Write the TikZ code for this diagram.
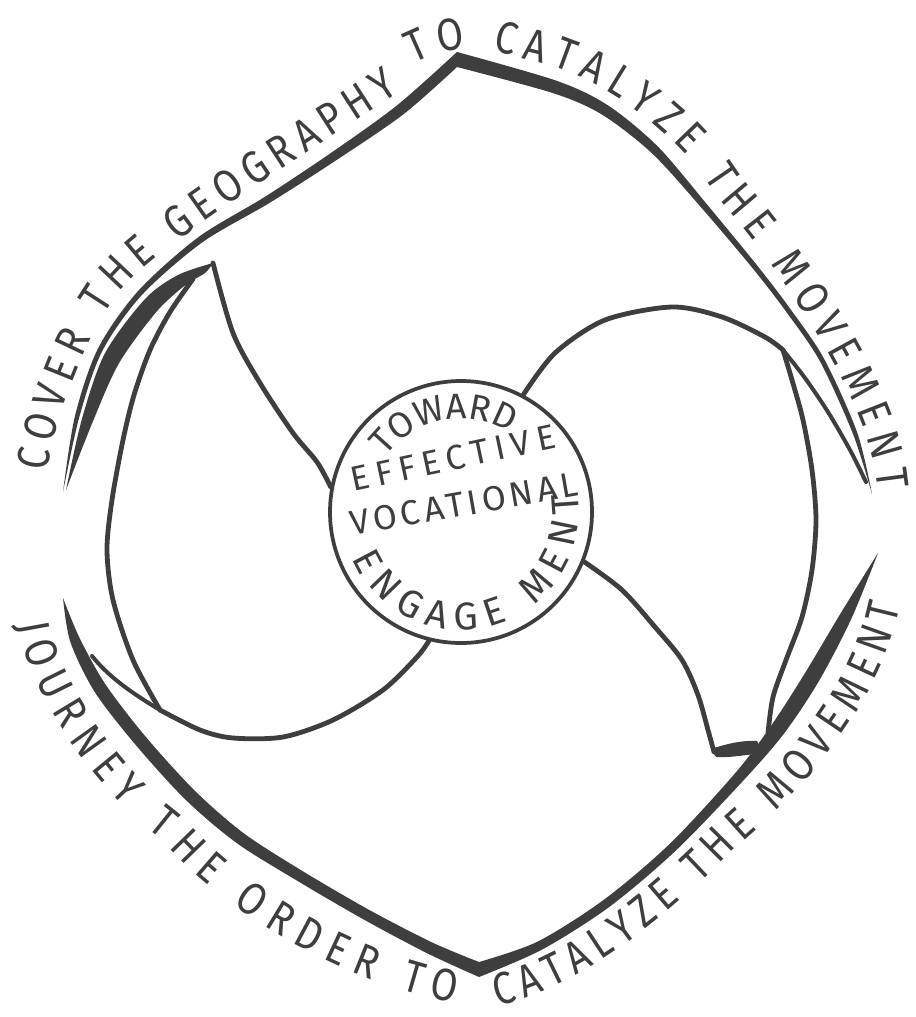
\documentclass[tikz,border=0pt]{standalone}
\usepackage{fontspec}
\setmainfont{Fira Sans}
\newfontfamily\handfont[FakeStretch=0.85]{Fira Sans}
\usetikzlibrary{decorations.text,calc}
\definecolor{inkc}{RGB}{62,62,62}
\newcommand{\outerfont}{\handfont\fontsize{34}{34}\selectfont}
\newcommand{\circfont}{\fontsize{26}{26}\selectfont}
\newcommand{\arcfont}{\fontsize{29}{29}\selectfont}
\newcommand{\topfont}{\fontsize{27}{27}\selectfont}
\begin{document}
\begin{tikzpicture}[x=0.75pt,y=-0.75pt,
  bladeline/.style={draw=inkc,line width=3.6pt,line cap=round,line join=round},
  sliverline/.style={draw=inkc,line width=3pt,line cap=round,line join=round},
  band/.style={fill=inkc},
  circtext/.style={text=inkc,inner sep=0pt}]
\useasboundingbox (0,0) rectangle (915,1017);
\fill[white] (0,0) rectangle (915,1017);

% ---------- top arc band ----------
\fill[band] plot[smooth] coordinates {(63,492) (74.9,416.3) (97.95,348.6) (138.2,290.9) (198.2,237.3) (264.8,196.9) (330.3,153.4) (396.6,105.7) (457,52)}
 -- plot[smooth] coordinates {(457,52) (556.7,80.8) (608,105.4) (657.8,146.5) (707.3,204.8) (757,265.3) (790,308.5) (824.1,358.8) (857.1,432.3) (872,494)}
 -- plot[smooth] coordinates {(872,494) (852.9,433.7) (819.9,361.2) (786,311.5) (753,268.7) (702.7,209.2) (652.2,153.5) (602,114.6) (553.3,93.2) (457,67)}
 -- plot[smooth] coordinates {(457,67) (403.4,114.3) (335.7,160.6) (269.2,203.1) (201.8,242.7) (141.8,295.1) (102.05,351.4) (79.1,417.7) (63,492)}
 -- cycle;

% ---------- bottom arc band ----------
\fill[band] plot[smooth] coordinates {(63,598) (70.35,641.9) (94.5,691.6) (135.1,744.2) (185.5,799.6) (236.5,842.9) (297.1,880.7) (364.3,919.8) (427.5,953.4) (479,977)}
 -- plot[smooth] coordinates {(479,977) (542.2,949.5) (609.7,906.6) (676.1,850.3) (744.1,779.7) (784.1,733.4) (818.9,681.1) (851.3,618.8) (878,553)}
 -- plot[smooth] coordinates {(878,553) (840.7,613.2) (805.1,672.9) (771.9,724.6) (735.9,772.3) (669.9,843.7) (604.3,899.4) (537.8,941.5) (479,962)}
 -- plot[smooth] coordinates {(479,962) (432.5,942.6) (369.7,910.2) (302.9,871.3) (243.5,833.1) (194.5,790.4) (144.9,735.8) (105.5,684.4) (79.65,638.1) (63,598)}
 -- cycle;

% ---------- centre ----------
\node[circle,draw=inkc,line width=2.8pt,minimum size=196.5pt,inner sep=0pt] (c) at (461,512) {};

% ---------- named points ----------
\coordinate (ltip) at (213,263);
\coordinate (lstart) at (193,279);
\coordinate (lcorner) at (160,710);
\coordinate (lsl) at (92,656);
\coordinate (rfork) at (783,350);
\coordinate (rsl) at (866,482);
\coordinate (rend) at (768,733);
\coordinate (rtip) at (714,752);

% top-left crescent (tip of left blade)
\fill[band] plot[smooth] coordinates {(ltip) (178,275) (145.1,298.9) (104.9,353.4) (82,418.7) (66,490)}
 -- plot[smooth] coordinates {(66,490) (92.5,422.3) (119,363.2) (156.5,311.7) (185.5,285) (205,273) (ltip)} -- cycle;

% left blade
\draw[bladeline] plot[smooth] coordinates {(c.169) (317,462) (293,433) (260,383) (233,333) (ltip)};
\draw[bladeline] plot[smooth] coordinates {(lstart) (170,312) (150,350) (134,395) (123,440) (112,500) (107,550) (113,600) (133,660) (lcorner)};
\draw[bladeline] plot[smooth] coordinates {(lcorner) (200,730) (233,738) (283,737) (333,720) (383,690) (417,657) (c.256)};
\draw[sliverline] (lcorner) .. controls (130,692) and (108,676) .. (lsl);

% right blade
\draw[bladeline] plot[smooth] coordinates {(c.62) (555,353) (605,320) (672,307) (722,317) (765,337) (rfork)};
\draw[sliverline] plot[smooth] coordinates {(rfork) (805,378) (828,412) (850,450) (rsl)};
\draw[bladeline] plot[smooth] coordinates {(rfork) (792,380) (803,420) (812,470) (816,520) (812,570) (802,617) (786,660) (773,697) (rend)};
\draw[bladeline] plot[smooth] coordinates {(c.338) (622,590) (655,627) (682,660) (698,695) (708,730) (rtip)};
\fill[band] (711,749) .. controls (726,744) and (742,740) .. (757,741) -- (763,753) .. controls (745,755) and (728,758) .. (716,757) -- cycle;

% ---------- texts in the circle ----------
\path[decorate,decoration={text along path,text align=center,text color=inkc,
  text={|\topfont|TOWARD}}]
  (c.center) ++(180:70pt) arc[start angle=180,end angle=22,radius=70pt];
\node[circtext,rotate=12,font=\circfont\addfontfeatures{LetterSpace=19}] (eff) at (453,458) {EFFECTIVE};
\node[circtext,rotate=10,font=\circfont\addfontfeatures{LetterSpace=12}] (voc) at (464,504) {VOCATIONAL};
\path[decorate,decoration={text along path,text align={fit to path},text color=inkc,
  text={|\arcfont|ENGAGE MENT}}]
  (c.center) ++(203:88.5pt) arc[start angle=203,end angle=369,radius=88.5pt];

% ---------- outer texts ----------
\path[decorate,decoration={text along path,text align={fit to path},text color=inkc,
  text={|\outerfont|COVER THE GEOGRAPHY}}]
  (48,472) .. controls (55,410) and (95,315) .. (129.4,281)
  .. controls (189,223) and (345,130) .. (400,92);
\path[decorate,decoration={text along path,text align={fit to path},text color=inkc,
  text={|\outerfont|TO CATALYZE THE MOVEMENT}}]
  (414,64) .. controls (438,52) and (470,40) .. (520,58)
  .. controls (600,72) and (680,135) .. (716.5,196)
  .. controls (775,262) and (872,400) .. (878,490);
\path[decorate,decoration={text along path,text align={fit to path},text color=inkc,
  text={|\outerfont|JOURNEY THE ORDER TO}}]
  (18,624) .. controls (27,690) and (95,790) .. (162,840)
  .. controls (225,915) and (350,985) .. (455,1003);
\path[decorate,decoration={text along path,text align={fit to path},text color=inkc,
  text={|\outerfont|CATALYZE THE MOVEMENT}}]
  (497,1006) .. controls (564,991) and (642,942) .. (729,854)
  .. controls (792,802) and (878,712) .. (900,606);
\end{tikzpicture}
\end{document}
